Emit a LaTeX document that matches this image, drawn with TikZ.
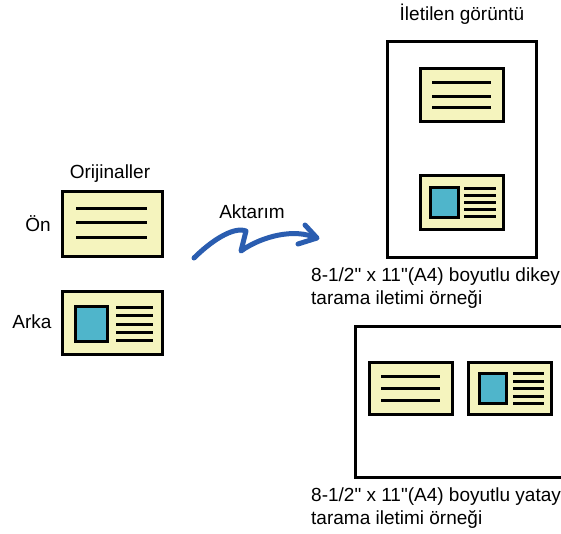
\documentclass[tikz,border=0pt]{standalone}
\usepackage{fontspec}
\setmainfont{Liberation Sans}[Ligatures=TeXOff]
\begin{document}
\begin{tikzpicture}[x=1pt,y=-1pt,
  card/.style={draw=black,line width=3pt,fill=cardfill},
  sq/.style={draw=black,line width=3pt,fill=sqblue},
  txtline/.style={line width=3pt},
  page/.style={draw=black,line width=3pt,fill=white},
  lbl/.style={font=\fontsize{19}{23}\selectfont,inner sep=0pt},
  arr/.style={draw=arrowblue,line width=5pt,line cap=round,line join=round}]
\definecolor{cardfill}{HTML}{F5F4BE}
\definecolor{sqblue}{HTML}{4FB5CB}
\definecolor{arrowblue}{HTML}{2A5DB0}
\useasboundingbox (0,0) rectangle (561,534);
% originals
\node[lbl] (orij) at (110,174) {Orijinaller};
\node[lbl] (on) at (38,224) {Ön};
\node[lbl] (arka) at (32,322) {Arka};
\draw[card] (62,192) rectangle (162,256);
\foreach \y in {209,223,238} \draw[txtline] (76,\y) -- (147,\y);
\draw[card] (62,291) rectangle (162,354);
\draw[sq] (75,306) rectangle (107,341);
\foreach \y in {307,315,324,332,340} \draw[txtline] (116,\y) -- (153,\y);
% arrow
\node[lbl] (akt) at (252,212) {Aktarım};
\draw[arr] (194,258) .. controls (210,242) and (233,226) .. (246,231) -- (241,251) .. controls (262,236) and (295,228) .. (316,238);
\draw[arr] (305,225) -- (317,238) -- (298,244);
% portrait
\node[lbl] (ilet) at (462,14) {İletilen görüntü};
\draw[page] (387,42) rectangle (536,257);
\draw[card] (420,69) rectangle (503,122);
\foreach \y in {83,97,108} \draw[txtline] (432,\y) -- (491,\y);
\draw[card] (420,176) rectangle (503,230);
\draw[sq] (430,188) rectangle (458,218);
\foreach \y in {189,196,203,210,217} \draw[txtline] (464,\y) -- (496,\y);
\node[lbl,anchor=west,align=left] (cap1) at (311,288.5) {8-1/2" x 11"(A4) boyutlu dikey\\tarama iletimi örneği};
% landscape
\draw[page] (355,326) rectangle (570,477);
\draw[card] (369,362) rectangle (452,414);
\foreach \y in {376,388,400} \draw[txtline] (381,\y) -- (440,\y);
\draw[card] (468,362) rectangle (551,414);
\draw[sq] (479,373) rectangle (506,403);
\foreach \y in {373,381,388,396,403} \draw[txtline] (513,\y) -- (544,\y);
\node[lbl,anchor=west,align=left] (cap2) at (311,508.5) {8-1/2" x 11"(A4) boyutlu yatay\\tarama iletimi örneği};
\end{tikzpicture}
\end{document}
